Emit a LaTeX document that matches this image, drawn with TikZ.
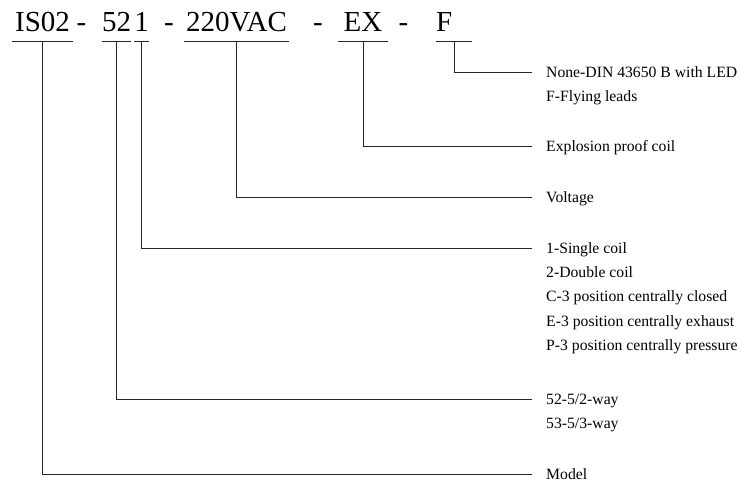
\documentclass[tikz,border=0pt]{standalone}
\usepackage{fontspec}
\setmainfont{Liberation Serif}
\usetikzlibrary{positioning}

\begin{document}
\begin{tikzpicture}[x=1pt, y=-1pt,
    code/.style = {font=\fontsize{29}{34}\selectfont, inner sep=0pt, text depth=10pt, anchor=base},
    item/.style = {font=\fontsize{15.7}{24}\selectfont, inner xsep=14pt, inner ysep=7pt,
                   text height=10pt, text depth=0pt, anchor=west},
    lead/.style = {draw=black!85, line width=0.8pt}]
  \useasboundingbox (0,0) rectangle (741,483);

  % order code
  \node[code, minimum width=61pt] (ser) at (42.5,31) {IS02};
  \node[code] (dasha) at (81.5,31) {-};
  \node[code, minimum width=27pt] (way) at (116.5,31) {52};
  \node[code, minimum width=13pt] (coil) at (141.5,31) {1};
  \node[code] (dashb) at (169,31) {-};
  \node[code, minimum width=105pt] (volt) at (236.5,31) {220VAC};
  \node[code] (dashc) at (318,31) {-};
  \node[code, minimum width=50pt] (ex) at (363,31) {EX};
  \node[code] (dashd) at (403.5,31) {-};
  \node[code, text width=36pt, anchor=base west] (plug) at (436,31) {F};

  \foreach \n in {ser,way,coil,volt,ex,plug}
    \draw[lead] (\n.south west) -- (\n.south east);

  % meanings
  \node[item] (din) at (532,72) {None-DIN 43650 B with LED};
  \node[item, below right=0pt and 0pt of din.south west] (fly) {F-Flying leads};
  \node[item] (epc) at (532,146) {Explosion proof coil};
  \node[item] (vt) at (532,197) {Voltage};
  \node[item] (sc) at (532,248) {1-Single coil};
  \node[item, below right=0pt and 0pt of sc.south west] (dc) {2-Double coil};
  \node[item, below right=0pt and 0pt of dc.south west] (cc) {C-3 position centrally closed};
  \node[item, below right=0pt and 0pt of cc.south west] (ce) {E-3 position centrally exhaust};
  \node[item, below right=0pt and 0pt of ce.south west] (cp) {P-3 position centrally pressure};
  \node[item] (w52) at (532,399) {52-5/2-way};
  \node[item, below right=0pt and 0pt of w52.south west] (w53) {53-5/3-way};
  \node[item] (mdl) at (532,474) {Model};

  \draw[lead] (plug.south) |- (din.west);
  \draw[lead] (ex.south) |- (epc.west);
  \draw[lead] (volt.south) |- (vt.west);
  \draw[lead] (coil.south) |- (sc.west);
  \draw[lead] (way.south) |- (w52.west);
  \draw[lead] (ser.south) |- (mdl.west);
\end{tikzpicture}
\end{document}
